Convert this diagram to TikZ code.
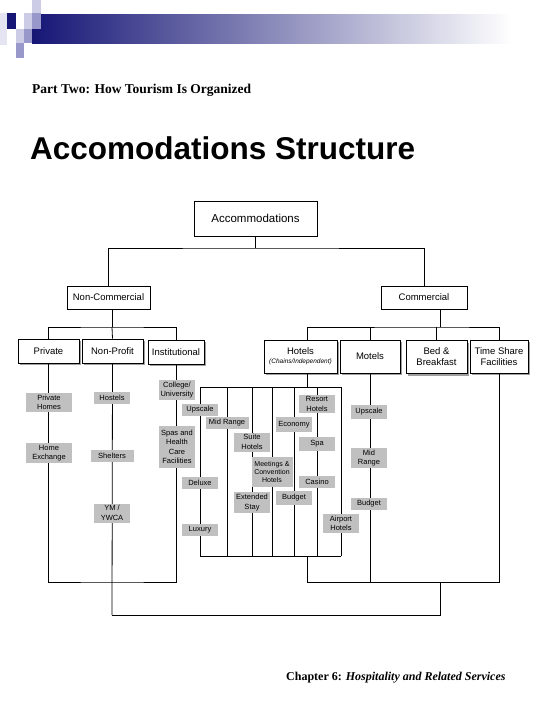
\documentclass[tikz,border=0pt]{standalone}
\usepackage{fontspec}
\setmainfont{Liberation Serif}
\setsansfont{Liberation Sans}
\usetikzlibrary{shadows}
\definecolor{tagGray}{RGB}{192,192,192}
\definecolor{barNavy}{RGB}{22,22,118}
\definecolor{sqLight}{RGB}{204,204,230}
\definecolor{sqMid}{RGB}{152,152,202}
\definecolor{sqPale}{RGB}{228,228,242}

\begin{document}
\begin{tikzpicture}[x=1pt, y=-1pt,
    head box/.style={draw, fill=white, line width=0.8pt, inner sep=0pt, minimum height=23pt, align=center, font=\sffamily\fontsize{9.5}{11}\selectfont},
    kind box/.style={head box, minimum height=24pt, drop shadow={shadow xshift=2pt, shadow yshift=-2pt, fill=gray!75, opacity=1}},
    type tag/.style={fill=tagGray, inner xsep=1pt, inner ysep=2pt, minimum width=36pt, minimum height=12pt, align=center, font=\sffamily\fontsize{7.5}{9.5}\selectfont},
    link/.style={line width=0.8pt}]
    \fill[white] (0,0) rectangle (540,720);
    \useasboundingbox (0,0) rectangle (540,720);

    % slide decoration
    \shade[left color=barNavy, right color=white] (32,14) rectangle (512,43);
    \fill[sqLight] (32,0) rectangle (41,13);
    \fill[sqPale] (0,13) rectangle (7,45);
    \fill[barNavy] (7,13) rectangle (16,29);
    \fill[sqLight] (24,13) rectangle (32,29);
    \fill[sqMid] (32,13) rectangle (41,29);
    \fill[sqLight] (16,29) rectangle (24,43);
    \fill[sqMid] (24,29) rectangle (32,43);
    \fill[sqMid] (16,43) rectangle (24,58);

    \node[anchor=base west, inner sep=0pt, font=\bfseries\fontsize{13.5}{16}\selectfont] (part) at (32,93) {Part Two: How Tourism Is Organized};
    \node[anchor=base west, inner sep=0pt, font=\sffamily\bfseries\fontsize{31.5}{36}\selectfont] (title) at (30,159) {Accomodations Structure};
    \node[anchor=base west, inner sep=0pt, font=\bfseries\fontsize{12}{14}\selectfont] (chapter) at (286,680) {Chapter 6: \textit{Hospitality and Related Services}};

    % boxes
    \node[head box, minimum width=123pt, minimum height=35pt, font=\sffamily\fontsize{11.5}{13}\selectfont] (acc) at (255.5,218.5) {Accommodations};
    \node[head box, minimum width=83pt] (noncom) at (108.5,297.5) {Non-Commercial};
    \node[head box, minimum width=86pt] (com) at (424,297.5) {Commercial};
    \node[kind box, minimum width=61pt] (priv) at (48.5,351) {Private};
    \node[kind box, minimum width=61pt] (nonprof) at (112.5,351) {Non-Profit};
    \node[kind box, minimum width=56pt] (inst) at (176,352) {Institutional};
    \node[kind box, minimum width=73pt, minimum height=33pt] (hotels) at (300.5,356.5) {Hotels\\[-2pt]{\itshape\fontsize{6.5}{7}\selectfont(Chains/Independent)}};
    \node[kind box, minimum width=60pt, minimum height=33pt] (motels) at (370,356.5) {Motels};
    \node[kind box, minimum width=61pt, minimum height=33pt] (bnb) at (436.5,357) {Bed \&\\Breakfast};
    \node[kind box, minimum width=58pt, minimum height=33pt] (tshare) at (499,356.5) {Time Share\\Facilities};

    % top levels
    \coordinate (topbus) at (255.5,248);
    \draw[link] (acc.south) -- (topbus);
    \draw[link] (noncom.north) |- (topbus) -| (com.north);

    % non-commercial
    \coordinate (ncbus) at (112,327);
    \coordinate (ncend) at (112,582);
    \coordinate (allend) at (112,615);
    \draw[link] (noncom.south -| ncbus) -- (ncbus);
    \draw[link] (priv.north) |- (ncbus) -| (inst.north);
    \draw[link] (ncbus) -- (nonprof.north);
    \draw[link] (priv.south) |- (ncend) -| (inst.south);
    \draw[link] (nonprof.south) -- (allend);

    % commercial
    \coordinate (cbus) at (440,327);
    \coordinate (hjoin) at (307,387);
    \coordinate (hout) at (307,556);
    \coordinate (comjoin) at (307,582);
    \coordinate (comend) at (440,582);
    \draw[link] (com.south -| cbus) -- (cbus);
    \draw[link] (hotels.north -| hjoin) |- (cbus) -| (tshare.north);
    \draw[link] (motels.north) -- (motels.north |- cbus);
    \draw[link] (bnb.north) -- (bnb.north |- cbus);
    \draw[link] (hotels.south -| hjoin) -- (hjoin);
    \foreach \cx [count=\i] in {200,227,252,272,294,317,341} {
        \coordinate (ht\i) at (\cx,387);
        \coordinate (hb\i) at (\cx,556);
        \draw[link] (ht\i) -- (hb\i);
    }
    \draw[link] (ht1) -- (ht7);
    \draw[link] (hb1) -- (hb7);
    \draw[link] (hout) -- (comjoin) -| (tshare.south);
    \draw[link] (motels.south) -- (motels.south |- comjoin);
    \draw[link] (allend) -| (comend);

    % grey tags
    \node[type tag, minimum width=46pt] (phomes) at (49,402.5) {Private\\Homes};
    \node[type tag, minimum width=46pt] (hexch) at (49,453) {Home\\Exchange};
    \node[type tag] (hostels) at (112,397.5) {Hostels};
    \node[type tag, minimum width=43pt] (shelters) at (112,456) {Shelters};
    \node[type tag] (ymca) at (112,513) {YM /\\YWCA};
    \node[type tag] (college) at (177,390) {College/\\University};
    \node[type tag, minimum height=42pt] (spas) at (177,447) {Spas and\\Health\\Care\\Facilities};
    \node[type tag] (hupscale) at (200,409.5) {Upscale};
    \node[type tag] (deluxe) at (200,483) {Deluxe};
    \node[type tag] (luxury) at (200,529.5) {Luxury};
    \node[type tag, minimum width=43pt] (hmid) at (227,423) {Mid Range};
    \node[type tag] (suite) at (252,442) {Suite\\Hotels};
    \node[type tag] (extstay) at (252,502.5) {Extended\\Stay};
    \node[type tag, minimum width=41pt, minimum height=30pt, font=\sffamily\fontsize{7}{7.8}\selectfont] (meetings) at (272,472) {Meetings \&\\Convention\\Hotels};
    \node[type tag, minimum height=15pt] (economy) at (294,424.5) {Economy};
    \node[type tag, minimum height=14pt] (hbudget) at (294,498) {Budget};
    \node[type tag] (resort) at (317,404) {Resort\\Hotels};
    \node[type tag, minimum height=14pt] (spa) at (317,444) {Spa};
    \node[type tag] (casino) at (317,481.5) {Casino};
    \node[type tag] (airport) at (341,523.5) {Airport\\Hotels};
    \node[type tag, minimum height=14pt] (mupscale) at (369,412) {Upscale};
    \node[type tag] (mmid) at (369,458) {Mid\\Range};
    \node[type tag] (mbudget) at (369,504) {Budget};
\end{tikzpicture}
\end{document}
